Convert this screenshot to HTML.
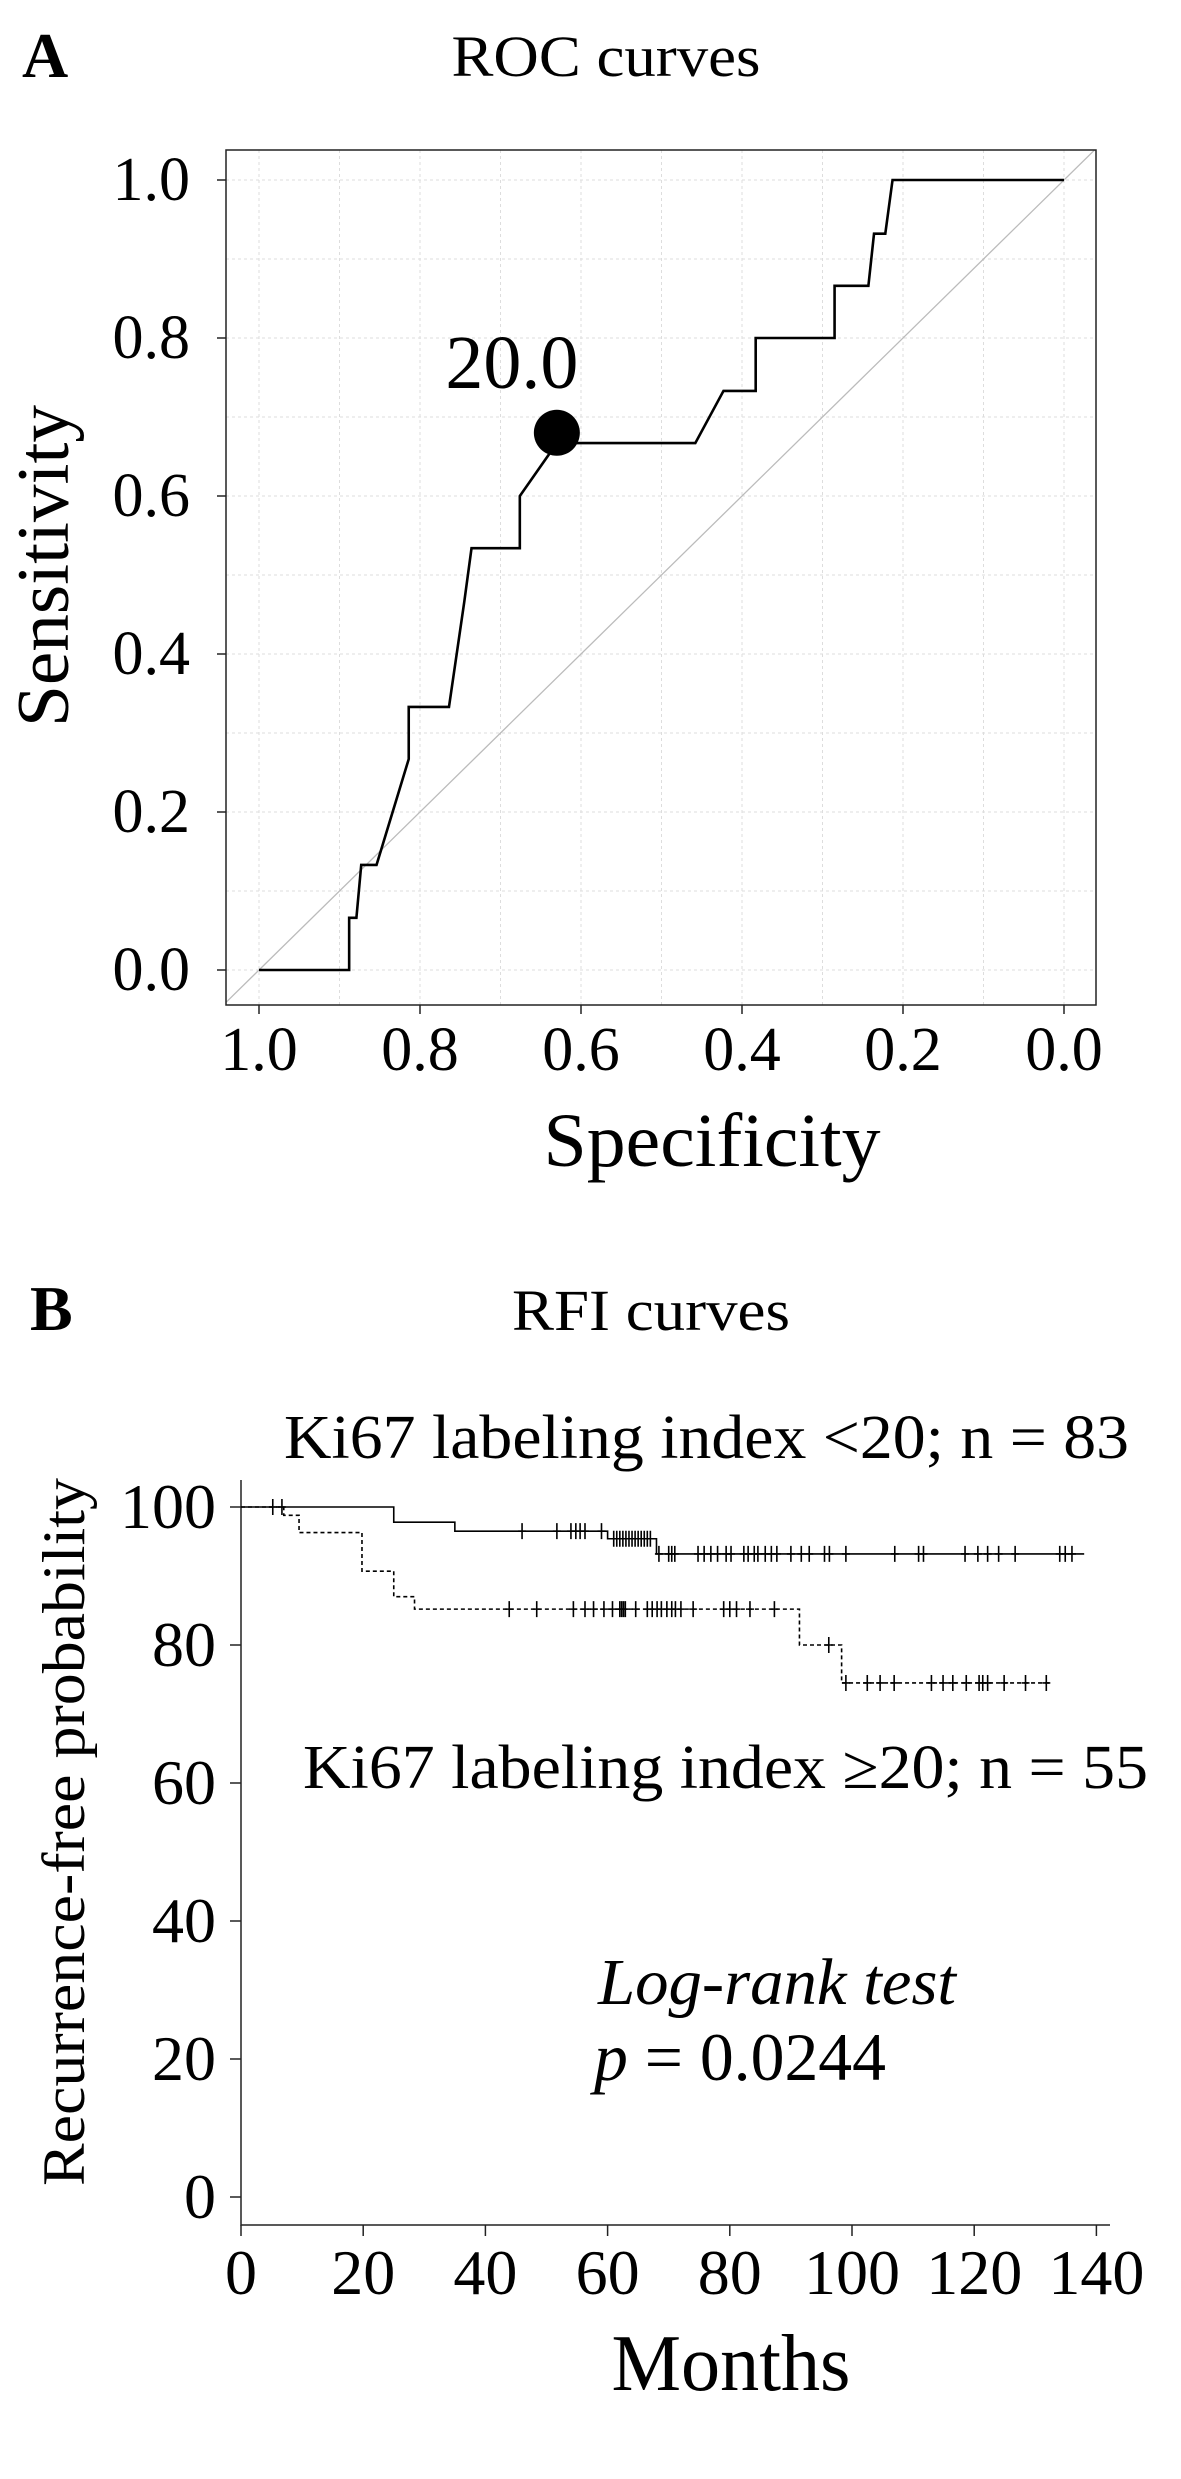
<!DOCTYPE html>
<html><head><meta charset="utf-8"><style>
html,body{margin:0;padding:0;background:#fff;}
svg{display:block;font-family:"Liberation Serif",serif;}
</style></head><body>
<svg id="fig" width="1181" height="2479" viewBox="0 0 1181 2479" xmlns="http://www.w3.org/2000/svg">
<text x="22" y="77" font-size="64" font-weight="bold">A</text>
<text x="606" y="76" font-size="58" text-anchor="middle" textLength="309" lengthAdjust="spacingAndGlyphs">ROC curves</text>
<g id="roc"></g>
<text x="712" y="1166" font-size="76" text-anchor="middle" textLength="337" lengthAdjust="spacingAndGlyphs">Specificity</text>
<text transform="translate(68,566) rotate(-90)" font-size="74" text-anchor="middle" textLength="322" lengthAdjust="spacingAndGlyphs">Sensitivity</text>

<text x="30" y="1330" font-size="64" font-weight="bold">B</text>
<text x="651" y="1330" font-size="58" text-anchor="middle" textLength="278" lengthAdjust="spacingAndGlyphs">RFI curves</text>
<text x="284" y="1458" font-size="62" textLength="845" lengthAdjust="spacingAndGlyphs">Ki67 labeling index &lt;20; n = 83</text>
<text x="303" y="1788" font-size="62" textLength="845" lengthAdjust="spacingAndGlyphs">Ki67 labeling index ≥20; n = 55</text>
<text x="598" y="2004" font-size="66" font-style="italic" textLength="358" lengthAdjust="spacingAndGlyphs">Log-rank test</text>
<text x="594" y="2080" font-size="68" textLength="292" lengthAdjust="spacingAndGlyphs"><tspan font-style="italic">p</tspan> = 0.0244</text>
<g id="km"></g>
<text x="731" y="2390" font-size="80" text-anchor="middle" textLength="239" lengthAdjust="spacingAndGlyphs">Months</text>
<text transform="translate(84,1832) rotate(-90)" font-size="60" text-anchor="middle" textLength="708" lengthAdjust="spacingAndGlyphs">Recurrence-free probability</text>
</svg>
<script>
// ROC data
const rocSpec = [1.0,0.888,0.888,0.879,0.873,0.854,0.814,0.814,0.764,0.745,0.736,0.676,0.676,0.63,0.458,0.423,0.383,0.383,0.285,0.285,0.243,0.236,0.222,0.213,0.0];
const rocSens = [0,0,0.066,0.066,0.133,0.133,0.267,0.333,0.333,0.466,0.534,0.534,0.6,0.667,0.667,0.733,0.733,0.8,0.8,0.866,0.866,0.932,0.932,1.0,1.0];
const cutSpec = [0.63];
const cutSens = [0.68];
const cutLabel = ["20.0"];
const rocTicks = [1.0,0.8,0.6,0.4,0.2,0.0];
// KM data
const lowT = [0,25,25,35,35,60,60,68,68,138];
const lowS = [100,100,97.8,97.8,96.5,96.5,95.4,95.4,93.2,93.2];
const lowCensT = [5.2,6.7,46,51.7,54,54.8,55.5,56.3,59,61,61.5,62,62.5,63,63.5,64,64.5,65,65.5,66,66.5,67,68.4,70,70.5,71,74.8,75.8,76.9,78,79.4,80.2,82.3,83,84,84.6,85.8,86.8,87.7,90,91.7,93,95.5,96.3,99,107,110.9,111.7,118.5,120.6,122.2,124,126.7,134,134.9,136];
const highT = [0,7,7,9.5,9.5,19.8,19.8,25,25,28.4,28.4,91.4,91.4,98.3,98.3,132.3];
const highS = [100,100,98.8,98.8,96.3,96.3,90.7,90.7,87,87,85.2,85.2,80,80,74.5,74.5];
const highCensT = [43.9,48.4,54.4,56.3,57.7,59.4,60.8,62,62.3,62.6,62.9,64.6,66.5,67.3,68.1,68.8,69.7,70.5,71.1,72,74,79,80,81.1,83.3,87.3,96.2,99,102.5,104.6,106.9,113,114.9,116.5,118.7,120.8,121.4,122.2,124.9,128.4,131.8];
const kmXTicks = [0,20,40,60,80,100,120,140];
const kmYTicks = [0,20,40,60,80,100];

const NS="http://www.w3.org/2000/svg";
function mk(tag,attrs,parent){const e=document.createElementNS(NS,tag);for(const k in attrs)e.setAttribute(k,attrs[k]);parent.appendChild(e);return e;}

// ROC axes
const rx=v=>259+(1-v)*805, ry=v=>970-v*790;
const roc=document.getElementById('roc');
const cp=mk('clipPath',{id:'rocclip'},roc);mk('rect',{x:226,y:150,width:870,height:855},cp);
for(let i=0;i<=10;i++){const v=i/10;
 const gx=mk('line',{x1:rx(v),x2:rx(v),y1:150,y2:1005,stroke:'#ddd','stroke-width':1,'stroke-dasharray':'3,3'},roc);
 
 
 const gy=mk('line',{x1:226,x2:1096,y1:ry(v),y2:ry(v),stroke:'#ddd','stroke-width':1,'stroke-dasharray':'3,3'},roc);
 
 
}
const diag=mk('line',{x1:rx(1.2),y1:ry(-0.2),x2:rx(-0.2),y2:ry(1.2),stroke:'#bbb','stroke-width':1.3,'clip-path':'url(#rocclip)'},roc);


const box=mk('rect',{x:226,y:150,width:870,height:855,fill:'none',stroke:'#222','stroke-width':1.5},roc);


rocTicks.forEach(v=>{
 const t=mk('line',{x1:rx(v),x2:rx(v),y1:1005,y2:1014,stroke:'#222','stroke-width':1.5},roc);
 
 
 const l=mk('text',{x:rx(v),y:1070,'font-size':62,'text-anchor':'middle'},roc);l.textContent=v.toFixed(1);
 
 
 const t2=mk('line',{x1:217,x2:226,y1:ry(v),y2:ry(v),stroke:'#222','stroke-width':1.5},roc);
 
 
 const l2=mk('text',{x:190,y:ry(v)+20,'font-size':62,'text-anchor':'end'},roc);l2.textContent=v.toFixed(1);
 
 
});
const rocPath=mk('polyline',{points:rocSpec.map((s,i)=>rx(s)+','+ry(rocSens[i])).join(' '),fill:'none',stroke:'#000','stroke-width':2.6},roc);


cutSpec.forEach((s,i)=>{
 const c=mk('circle',{cx:rx(s),cy:ry(cutSens[i]),r:23,fill:'#000'},roc);
 
 
 const t=mk('text',{x:rx(s)-45,y:ry(cutSens[i])-45,'font-size':76,'text-anchor':'middle'},roc);t.textContent=cutLabel[i];
 
 
});

// KM axes
const kx=v=>241+v*122.2/20, ky=v=>2197-v*6.9;
const km=document.getElementById('km');
const ax=mk('path',{d:'M241,1480 V2225 H1110',fill:'none',stroke:'#222','stroke-width':1.5},km);


kmXTicks.forEach(v=>{
 const t=mk('line',{x1:kx(v),x2:kx(v),y1:2225,y2:2236,stroke:'#222','stroke-width':1.5},km);
 
 
 const l=mk('text',{x:kx(v),y:2294,'font-size':64,'text-anchor':'middle'},km);l.textContent=v;
 
 
});
kmYTicks.forEach(v=>{
 const t=mk('line',{x1:230,x2:241,y1:ky(v),y2:ky(v),stroke:'#222','stroke-width':1.5},km);
 
 
 const l=mk('text',{x:216,y:ky(v)+21,'font-size':64,'text-anchor':'end'},km);l.textContent=v;
 
 
});
function stepVal(T,S,t){let v=S[0];for(let i=0;i<T.length;i++){if(T[i]<=t)v=S[i];}return v;}
function drawCurve(T,S,C,dash,name){
 const p=mk('polyline',{points:T.map((t,i)=>kx(t)+','+ky(S[i])).join(' '),fill:'none',stroke:'#000','stroke-width':1.6,'stroke-dasharray':dash},km);
 
 
 C.forEach(t=>{const y=ky(stepVal(T,S,t)),x=kx(t);
  const m=mk('path',{d:`M${x},${y-8} V${y+8} M${x-4},${y} H${x+4}`,stroke:'#000','stroke-width':1.6},km);
  
  
 });
}
drawCurve(lowT,lowS,lowCensT,'none','km-curve-low-ki67');
drawCurve(highT,highS,highCensT,'4,3','km-curve-high-ki67');
</script>
</body></html>
